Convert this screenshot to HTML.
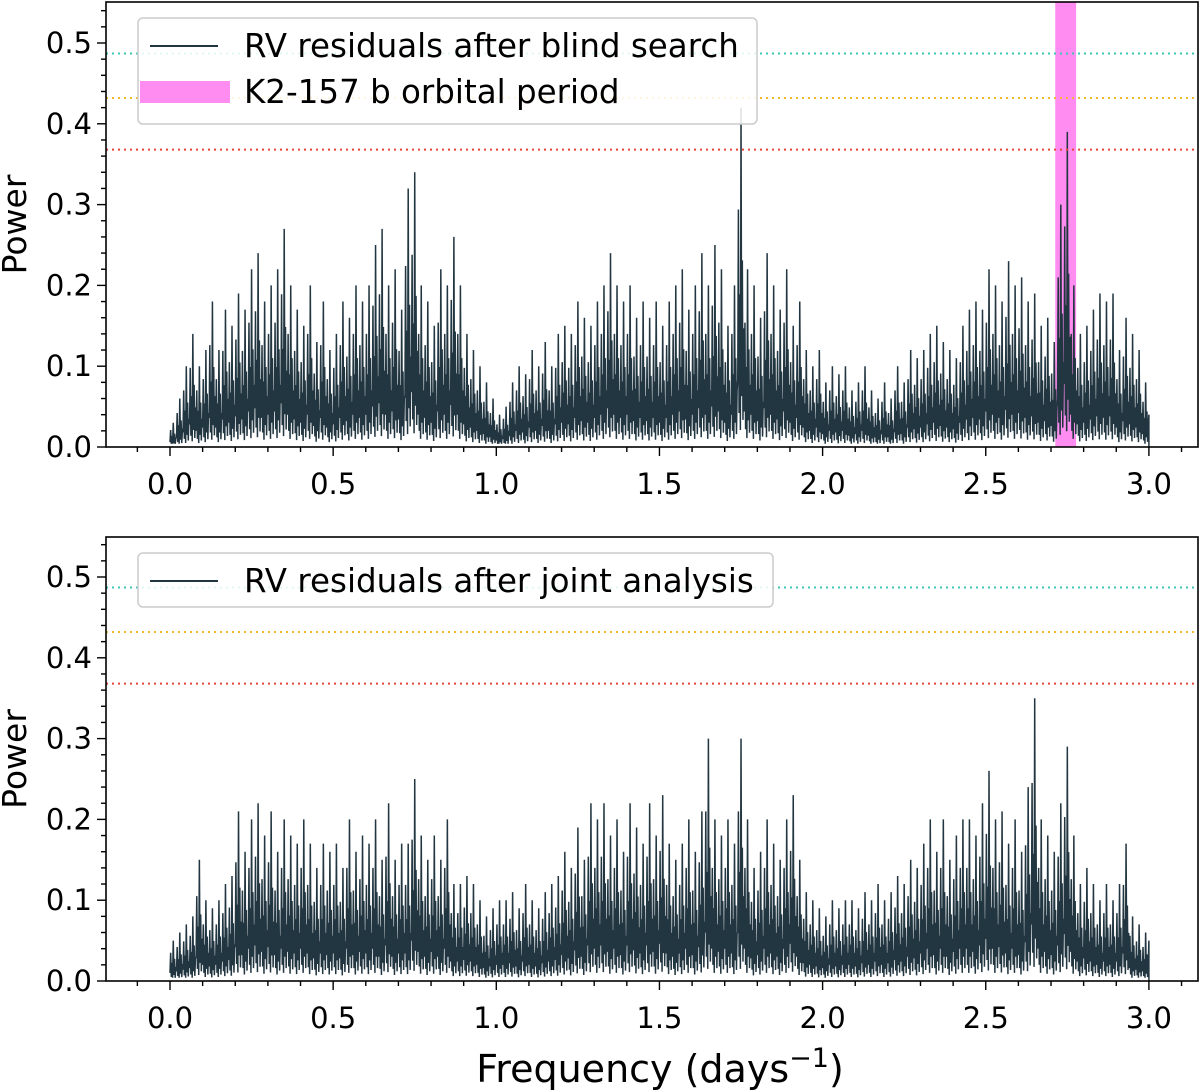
<!DOCTYPE html>
<html><head><meta charset="utf-8"><style>
html,body{margin:0;padding:0;background:#fff;}
svg{display:block;font-family:"DejaVu Sans","Liberation Sans",sans-serif;}
</style></head><body>
<svg id="chart" width="1200" height="1092" viewBox="0 0 1200 1092" xmlns="http://www.w3.org/2000/svg"></svg>
<script>
const freqStep = 0.02;
const topPower = [0.03,0.06,0.1,0.14,0.1,0.12,0.18,0.12,0.17,0.15,0.19,0.17,0.22,0.24,0.18,0.2,0.22,0.27,0.2,0.17,0.15,0.2,0.13,0.18,0.12,0.14,0.18,0.16,0.2,0.18,0.2,0.25,0.27,0.2,0.22,0.17,0.32,0.34,0.2,0.18,0.15,0.22,0.2,0.26,0.2,0.14,0.12,0.1,0.08,0.06,0.04,0.05,0.08,0.1,0.09,0.12,0.1,0.13,0.1,0.14,0.15,0.14,0.18,0.16,0.15,0.18,0.2,0.24,0.2,0.18,0.2,0.16,0.18,0.16,0.18,0.15,0.18,0.2,0.22,0.17,0.2,0.24,0.2,0.25,0.22,0.15,0.2,0.42,0.22,0.2,0.16,0.24,0.2,0.17,0.22,0.15,0.18,0.12,0.1,0.12,0.08,0.1,0.09,0.1,0.07,0.08,0.1,0.07,0.06,0.08,0.06,0.1,0.08,0.12,0.11,0.12,0.14,0.15,0.13,0.12,0.11,0.15,0.17,0.18,0.17,0.22,0.2,0.18,0.23,0.2,0.21,0.18,0.19,0.15,0.16,0.13,0.3,0.39,0.2,0.14,0.15,0.17,0.19,0.18,0.19,0.12,0.16,0.14,0.12,0.08,0.04];
const bottomPower = [0.05,0.06,0.07,0.08,0.15,0.1,0.09,0.1,0.12,0.13,0.21,0.16,0.2,0.22,0.18,0.21,0.16,0.2,0.18,0.17,0.2,0.17,0.14,0.17,0.16,0.17,0.14,0.2,0.16,0.18,0.17,0.2,0.15,0.22,0.15,0.17,0.17,0.25,0.18,0.15,0.18,0.15,0.2,0.12,0.12,0.13,0.12,0.1,0.08,0.09,0.1,0.1,0.11,0.09,0.12,0.1,0.09,0.11,0.12,0.13,0.16,0.14,0.19,0.15,0.22,0.2,0.22,0.18,0.2,0.16,0.22,0.19,0.17,0.22,0.18,0.23,0.17,0.15,0.17,0.2,0.16,0.21,0.3,0.2,0.18,0.2,0.17,0.3,0.2,0.14,0.16,0.2,0.17,0.15,0.2,0.23,0.15,0.11,0.1,0.09,0.08,0.1,0.09,0.1,0.1,0.09,0.11,0.1,0.12,0.1,0.11,0.13,0.12,0.15,0.14,0.17,0.2,0.16,0.2,0.15,0.18,0.2,0.2,0.18,0.22,0.26,0.2,0.21,0.17,0.2,0.16,0.24,0.35,0.2,0.18,0.16,0.22,0.29,0.18,0.12,0.14,0.12,0.1,0.12,0.1,0.12,0.17,0.08,0.07,0.06,0.05];
const fapLevels = [0.487,0.432,0.368];
const fapColors = ['#3cc6b4','#f2b82e','#e8443a'];
const xTicks = [0,0.5,1.0,1.5,2.0,2.5,3.0];
const yTicks = [0,0.1,0.2,0.3,0.4,0.5];
const planetBand = [2.713,2.777];

const svg = document.getElementById('chart');
const NS='http://www.w3.org/2000/svg';
function mk(tag, attrs, parent){const e=document.createElementNS(NS,tag);for(const k in attrs)e.setAttribute(k,attrs[k]);(parent||svg).appendChild(e);return e;}
const X0=170, XS=326.3, L=106, R=1198;
function xs(f){return X0+f*XS;}

function panel(name, y0, top, power, legendLabels, band){
  const g=mk('g',{});
  
  
  const ys=v=>y0-v*808;
  const bottom=y0;
  const clipId='clip-'+name;
  const cp=mk('clipPath',{id:clipId},g); mk('rect',{x:L,y:top,width:R-L,height:bottom-top},cp);
  if(band){
    const b=mk('rect',{x:xs(band[0]),y:top,width:xs(band[1])-xs(band[0]),height:bottom-top,fill:'#ff8cf0'},g);
    
    
  }
  const pat=[0.2,0.7,0.1,0.45,0.05,1.0,0.15,0.55,0.08,0.35];
  let pts=[];
  for(let i=0;i<power.length-1;i++){
    for(let k=0;k<pat.length;k++){
      const f=i*freqStep+k*freqStep/pat.length;
      const v=Math.max(0.004,power[i]*pat[k]);
      pts.push(xs(f).toFixed(2)+','+ys(v).toFixed(2));
    }
  }
  pts.push(xs((power.length-1)*freqStep).toFixed(2)+','+ys(power[power.length-1]).toFixed(2));
  pts.push(xs((power.length-1)*freqStep).toFixed(2)+','+ys(0).toFixed(2));
  const line=mk('polyline',{points:pts.join(' '),fill:'none',stroke:'#223641','stroke-width':1.5,'clip-path':`url(#${clipId})`},g);
  
  
  fapLevels.forEach((lv,i)=>{
    const l=mk('line',{x1:L,x2:R,y1:ys(lv),y2:ys(lv),stroke:fapColors[i],'stroke-width':2,'stroke-dasharray':'2,4'},g);
    
    
  });
  const fr=mk('rect',{x:L,y:top,width:R-L,height:bottom-top,fill:'none',stroke:'#000','stroke-width':1.6},g);
  
  
  for(let m=-1;m<=31;m++){const f=m/10;const x=xs(f);if(x<L||x>R)continue;const major=m%5===0;
    mk('line',{x1:x,x2:x,y1:bottom,y2:bottom+(major?9:5),stroke:'#000','stroke-width':1.4},g);}
  xTicks.forEach(t=>{const tx=mk('text',{x:xs(t),y:bottom+47,'text-anchor':'middle','font-size':29},g);tx.textContent=t.toFixed(1);
    });
  for(let m=0;m<=27;m++){const v=m*0.02;const y=ys(v);if(y<top)continue;const major=m%5===0;
    mk('line',{x1:L,x2:L-(major?9:5),y1:y,y2:y,stroke:'#000','stroke-width':1.4},g);}
  yTicks.forEach(t=>{const tx=mk('text',{x:L-14,y:ys(t)+10,'text-anchor':'end','font-size':29},g);tx.textContent=t.toFixed(1);
    });
  const yl=mk('text',{x:0,y:0,'font-size':33,'text-anchor':'middle',transform:`translate(26,${(top+bottom)/2}) rotate(-90)`},g);
  yl.textContent='Power';
  const lg=mk('g',{},g);
  
  
  const lw=legendLabels.length>1?619:635, lh=legendLabels.length*52+2;
  mk('rect',{x:138,y:top+16,width:lw,height:lh,rx:5,fill:'#fff','fill-opacity':0.85,stroke:'#ccc','stroke-width':1.5},lg);
  legendLabels.forEach((lab,i)=>{const cy=top+44+i*46;
    if(lab.band) mk('rect',{x:140,y:cy-11,width:90,height:22,fill:'#ff8cf0'},lg);
    else mk('line',{x1:150,x2:218,y1:cy,y2:cy,stroke:'#223641','stroke-width':2},lg);
    const t=mk('text',{x:244,y:cy+11,'font-size':32.5},lg);t.textContent=lab.text;
    });
}
panel('top-panel',447,2,topPower,[{text:'RV residuals after blind search'},{text:'K2-157 b orbital period',band:true}],planetBand);
panel('bottom-panel',981,537,bottomPower,[{text:'RV residuals after joint analysis'}],null);
const xl=mk('text',{x:660,y:1082,'text-anchor':'middle','font-size':38});
xl.innerHTML='Frequency (days<tspan dy="-15" font-size="27">−1</tspan><tspan dy="15">)</tspan>';


</script>
</body></html>
